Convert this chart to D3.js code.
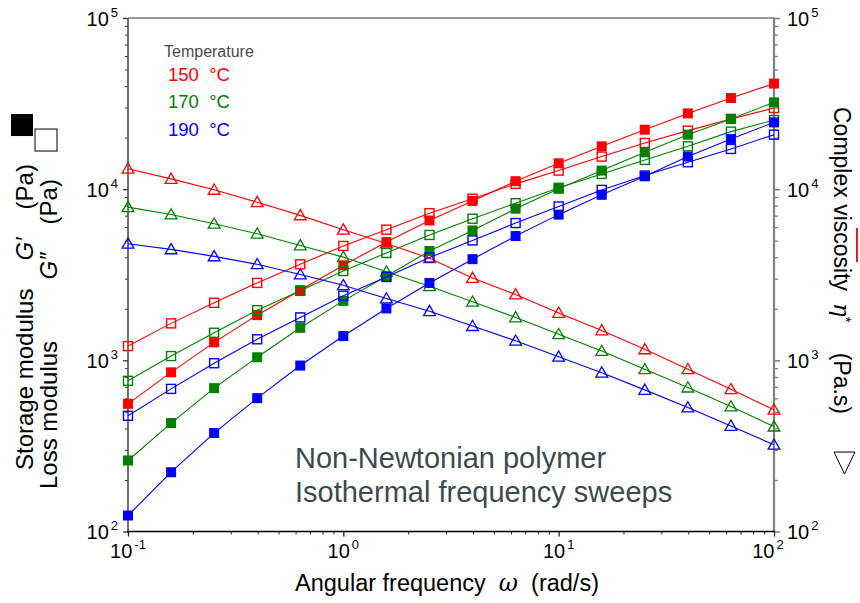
<!DOCTYPE html>
<html>
<head>
<meta charset="utf-8">
<script src="https://cdn.jsdelivr.net/npm/d3@7"></script>
<style>
  body { margin: 0; background: #fff; }
  svg { display: block; }
  text { font-family: "Liberation Sans", Arial, sans-serif; }
</style>
</head>
<body>
<svg id="chart" width="860" height="603"></svg>
<script>
// Angular frequency (rad/s), 5 points per decade
const omega = [0.1, 0.1585, 0.2512, 0.3981, 0.631, 1, 1.585, 2.512, 3.981, 6.31, 10, 15.85, 25.12, 39.81, 63.1, 100];

// Temperatures and their colours
const temps = ["150", "170", "190"];
const colors = ["#ff0000", "#008000", "#0000ff"];

// Storage modulus G' (Pa)
const gStorage150 = [557, 851, 1273, 1836, 2570, 3590, 4910, 6560, 8530, 11130, 14160, 17790, 22260, 27700, 34060, 41400];
const gStorage170 = [260, 430, 688, 1042, 1549, 2225, 3100, 4355, 5740, 7690, 10050, 12840, 16410, 20820, 25720, 32140];
const gStorage190 = [124, 222, 376, 601, 932, 1386, 2010, 2832, 3900, 5320, 7100, 9270, 11890, 15500, 19650, 24550];

// Loss modulus G'' (Pa)
const gLoss150 = [1211, 1644, 2168, 2833, 3640, 4660, 5800, 7240, 8800, 10740, 12840, 15500, 18620, 21980, 25720, 29790];
const gLoss170 = [759, 1059, 1449, 1963, 2546, 3326, 4240, 5400, 6720, 8280, 10180, 12280, 14820, 17790, 21680, 25360];
const gLoss190 = [474, 681, 962, 1327, 1782, 2383, 3070, 3985, 5020, 6340, 7920, 9900, 12020, 14360, 17180, 20820];

// Complex viscosity eta* (Pa.s)
const eta150 = [13150, 11480, 9910, 8390, 7030, 5800, 4820, 3950, 3030, 2425, 1893, 1496, 1159, 887, 678, 514];
const eta170 = [7850, 7110, 6280, 5490, 4690, 4010, 3290, 2710, 2197, 1781, 1419, 1133, 887, 693, 537, 410];
const eta190 = [4800, 4450, 4050, 3640, 3170, 2745, 2297, 1937, 1585, 1301, 1049, 847, 672, 530, 414, 321];

// Axis tick labels (powers of ten)
const xMajor = [0.1, 1, 10, 100];
const xExp = ["-1", "0", "1", "2"];
const yMajor = [1e2, 1e3, 1e4, 1e5];
const yExp = ["2", "3", "4", "5"];

const storage = [gStorage150, gStorage170, gStorage190];
const loss = [gLoss150, gLoss170, gLoss190];
const eta = [eta150, eta170, eta190];

const svg = d3.select("#chart");
const x = d3.scaleLog().domain([0.1, 100]).range([128, 774]);
const y = d3.scaleLog().domain([1e2, 1e5]).range([531.5, 18]);
const yR = d3.scaleLog().domain([1e2, 1e5]).range([531.5, 18]);

function minorTicks(lo, hi) {
  const v = [];
  for (let e = lo; e < hi; e++) for (let k = 2; k <= 9; k++) v.push(+(k * Math.pow(10, e)).toPrecision(6));
  return v;
}

function styleAxis(g, color, width) {
  g.select(".domain").remove();
  g.selectAll(".tick line").attr("stroke", color).attr("stroke-width", width);
}

// ---- axes ----
const [x0, x1] = x.range();
const [yb, yt] = y.range();

// bottom
const gxMinor = svg.append("g").attr("transform", `translate(0,${yb})`)
  .call(d3.axisBottom(x).tickValues(minorTicks(-1, 2)).tickSize(3).tickFormat(""));
styleAxis(gxMinor, "#222", 1);
const gx = svg.append("g").attr("transform", `translate(0,${yb})`)
  .call(d3.axisBottom(x).tickValues(xMajor).tickSize(5).tickFormat(""));
styleAxis(gx, "#222", 1.3);

// left
const gyMinor = svg.append("g").attr("transform", `translate(${x0},0)`)
  .call(d3.axisLeft(y).tickValues(minorTicks(2, 5)).tickSize(3).tickFormat(""));
styleAxis(gyMinor, "#333", 1);
const gy = svg.append("g").attr("transform", `translate(${x0},0)`)
  .call(d3.axisLeft(y).tickValues(yMajor).tickSize(5).tickFormat(""));
styleAxis(gy, "#333", 1.3);

// right
const gyrMinor = svg.append("g").attr("transform", `translate(${x1},0)`)
  .call(d3.axisRight(yR).tickValues(minorTicks(2, 5)).tickSize(4).tickFormat(""));
styleAxis(gyrMinor, "#808080", 1.3);
const gyr = svg.append("g").attr("transform", `translate(${x1},0)`)
  .call(d3.axisRight(yR).tickValues(yMajor).tickSize(6).tickFormat(""));
styleAxis(gyr, "#808080", 1.6);

// frame lines
svg.append("line").attr("x1", x0).attr("x2", x1).attr("y1", yt).attr("y2", yt)
  .attr("stroke", "#333").attr("stroke-width", 1.2);
svg.append("line").attr("x1", x0).attr("x2", x0).attr("y1", yt).attr("y2", yb)
  .attr("stroke", "#444").attr("stroke-width", 1.5);
svg.append("line").attr("x1", x1).attr("x2", x1).attr("y1", yt).attr("y2", yb)
  .attr("stroke", "#808080").attr("stroke-width", 2.2);
svg.append("line").attr("x1", x0 - 1).attr("x2", x1 + 1).attr("y1", yb).attr("y2", yb)
  .attr("stroke", "#000").attr("stroke-width", 1.5);

// tick labels "10^n"
function powLabel(sel, exp) {
  sel.append("tspan").text("10");
  sel.append("tspan").attr("font-size", 13).attr("dy", -9).attr("dx", 2).text(exp);
}
xMajor.forEach((v, i) => {
  svg.append("text").attr("x", x(v) + (i === xMajor.length - 1 ? -6 : 0)).attr("y", yb + 26)
    .attr("text-anchor", "middle")
    .attr("font-size", 20).attr("fill", "#000").call(powLabel, xExp[i]);
});
yMajor.forEach((v, i) => {
  svg.append("text").attr("x", x0 - 10).attr("y", y(v) + 7.5).attr("text-anchor", "end")
    .attr("font-size", 20).attr("fill", "#000").call(powLabel, yExp[i]);
  svg.append("text").attr("x", x1 + 13).attr("y", yR(v) + 7.5).attr("text-anchor", "start")
    .attr("font-size", 20).attr("fill", "#000").call(powLabel, yExp[i]);
});

// ---- series ----
const line = d3.line().x((d, i) => x(omega[i])).y(d => y(d));
const lineR = d3.line().x((d, i) => x(omega[i])).y(d => yR(d));
const sq = 10;
const tri = d3.symbol().type(d3.symbolTriangle).size(60);

temps.forEach((t, k) => {
  const c = colors[k];
  const g = svg.append("g");
  g.append("path").attr("d", line(loss[k])).attr("fill", "none").attr("stroke", c).attr("stroke-width", 1.1);
  g.append("path").attr("d", line(storage[k])).attr("fill", "none").attr("stroke", c).attr("stroke-width", 1.1);
  g.append("path").attr("d", lineR(eta[k])).attr("fill", "none").attr("stroke", c).attr("stroke-width", 1.1);

  g.selectAll(".loss").data(loss[k]).join("rect")
    .attr("x", (d, i) => x(omega[i]) - sq / 2 + 0.5).attr("y", d => y(d) - sq / 2 + 0.5)
    .attr("width", sq - 1).attr("height", sq - 1)
    .attr("fill", "none").attr("stroke", c).attr("stroke-width", 1.4);
  g.selectAll(".stor").data(storage[k]).join("rect")
    .attr("x", (d, i) => x(omega[i]) - sq / 2).attr("y", d => y(d) - sq / 2)
    .attr("width", sq).attr("height", sq).attr("fill", c);
  g.selectAll(".eta").data(eta[k]).join("path")
    .attr("d", tri)
    .attr("transform", (d, i) => `translate(${x(omega[i])},${yR(d) + 1})`)
    .attr("fill", "none").attr("stroke", c).attr("stroke-width", 1.3);
});

// ---- legend ----
svg.append("text").attr("x", 164).attr("y", 56.5).attr("font-size", 16).attr("fill", "#4a4a4a")
  .text("Temperature");
temps.forEach((t, k) => {
  svg.append("text").attr("x", 168).attr("y", 80.5 + k * 27.5).attr("font-size", 18.5)
    .attr("fill", colors[k]).attr("xml:space", "preserve").text(`${t}  °C`);
});

// ---- annotation ----
const note = svg.append("text").attr("font-family", "Lato, 'Open Sans', sans-serif")
  .attr("font-size", 29).attr("fill", "#3d4a4f");
note.append("tspan").attr("x", 295).attr("y", 468).text("Non-Newtonian polymer");
note.append("tspan").attr("x", 295).attr("y", 502).text("Isothermal frequency sweeps");

// ---- axis titles ----
svg.append("text").attr("x", (x0 + x1) / 2 - 4).attr("y", 591).attr("text-anchor", "middle")
  .attr("font-size", 23.5).attr("fill", "#000").attr("xml:space", "preserve")
  .call(s => {
    s.append("tspan").text("Angular frequency  ");
    s.append("tspan").attr("font-family", "'DejaVu Serif', serif").attr("font-style", "italic").text("ω");
    s.append("tspan").text("  (rad/s)");
  });

// rotated left titles: the symbol and unit of both lines line up, followed by a square key
const titleSize = 24, gap = 28;
function measure(str) {
  const t = svg.append("text").attr("font-size", titleSize).text(str);
  const w = t.node().getComputedTextLength();
  t.remove();
  return w;
}
const mainWidth = Math.max(measure("Storage modulus"), measure("Loss modulus"));
function leftTitle(bx, by, main, sym, filled) {
  const g = svg.append("g").attr("transform", `translate(${bx},${by}) rotate(-90)`);
  const t = g.append("text").attr("font-size", titleSize).attr("fill", "#000");
  t.append("tspan").text(main);
  t.append("tspan").attr("dx", gap + mainWidth - measure(main)).attr("font-style", "italic").text(sym);
  t.append("tspan").attr("dx", gap).text("(Pa)");
  const len = t.node().getBBox().width;
  g.append("rect").attr("x", len + gap).attr("y", -22).attr("width", 22).attr("height", 22)
    .attr("fill", filled ? "#000" : "#fff").attr("stroke", "#000").attr("stroke-width", filled ? 0 : 1);
}
leftTitle(33, 470, "Storage modulus", "G′", true);
leftTitle(57, 489, "Loss modulus", "G″", false);

// right title
const gr = svg.append("g").attr("transform", `translate(834,107) rotate(90)`);
const tr = gr.append("text").attr("font-size", 23).attr("fill", "#000");
tr.append("tspan").text("Complex viscosity");
tr.append("tspan").attr("dx", 12).attr("font-family", "'DejaVu Serif', serif").attr("font-style", "italic").text("η");
tr.append("tspan").attr("font-size", 15).attr("dy", -7).text("*");
tr.append("tspan").attr("dy", 7).attr("dx", 30).text("(Pa.s)");
const rlen = tr.node().getBBox().width;
gr.append("path").attr("d", "M0,0 L22,-10.5 L0,-21 Z").attr("transform", `translate(${rlen + 38},0)`)
  .attr("fill", "none").attr("stroke", "#000").attr("stroke-width", 1);
svg.append("line").attr("x1", 857).attr("x2", 857).attr("y1", 228).attr("y2", 262)
  .attr("stroke", "#e02020").attr("stroke-width", 2);
</script>
</body>
</html>
